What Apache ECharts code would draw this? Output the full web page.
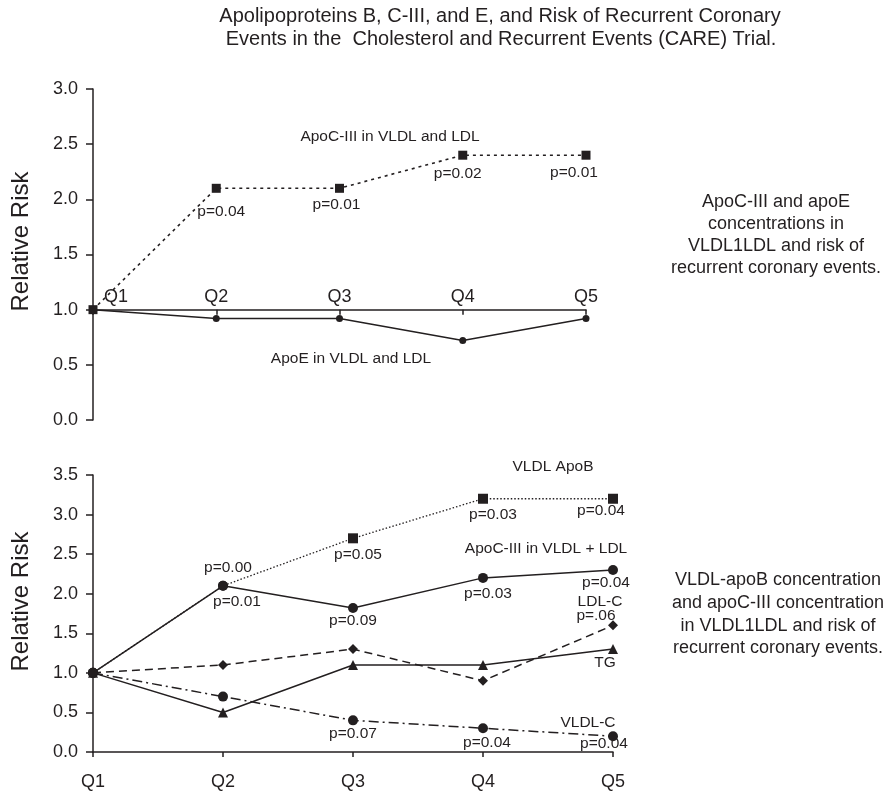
<!DOCTYPE html>
<html><head><meta charset="utf-8">
<script src="https://cdn.jsdelivr.net/npm/echarts@6/dist/echarts.min.js"></script>
<style>html,body{margin:0;padding:0;background:#fff}#c{width:891px;height:794px}</style>
</head><body><div id="c"></div>
<script>
// ---- data ----
const quintiles = ['Q1', 'Q2', 'Q3', 'Q4', 'Q5'];
const topApoC3 = [1.0, 2.1, 2.1, 2.4, 2.4];
const topApoC3P = ['', 'p=0.04', 'p=0.01', 'p=0.02', 'p=0.01'];
const topApoE = [1.0, 0.92, 0.92, 0.72, 0.92];
const botVldlApoB = [1.0, 2.1, 2.7, 3.2, 3.2];
const botVldlApoBP = ['', 'p=0.00', 'p=0.05', 'p=0.03', 'p=0.04'];
const botApoC3 = [1.0, 2.1, 1.82, 2.2, 2.3];
const botApoC3P = ['', 'p=0.01', 'p=0.09', 'p=0.03', 'p=0.04'];
const botLdlC = [1.0, 1.1, 1.3, 0.9, 1.6];
const botLdlCP = ['', '', '', '', 'p=.06'];
const botTG = [1.0, 0.5, 1.1, 1.1, 1.3];
const botVldlC = [1.0, 0.7, 0.4, 0.3, 0.2];
const botVldlCP = ['', '', 'p=0.07', 'p=0.04', 'p=0.04'];

// ---- layout / style ----
const INK = '#231f20';
const FONT = '"Liberation Sans", Arial, Helvetica, sans-serif';
const ANN = 15.5;
const offTopApoC3 = [[0,0],[5,23],[-3,16],[-5,19],[-12,18]];
const offVldlApoB = [[0,0],[5,-18],[5,16],[10,16],[-12,12]];
const offBotApoC3 = [[0,0],[14,16],[0,13],[5,16],[-7,13]];
const offLdlC = [[0,0],[0,0],[0,0],[0,0],[-17,-10]];
const offVldlC = [[0,0],[0,0],[0,13],[4,14],[-9,8]];

function items(vals, ps, offs, symbols) {
  return vals.map((v, i) => {
    const it = { value: v };
    if (symbols) it.symbol = symbols[i];
    if (ps && ps[i]) {
      it.label = { show: true, formatter: ps[i], position: 'inside', offset: offs[i],
        color: INK, fontSize: ANN, fontFamily: FONT, align: 'center', verticalAlign: 'middle' };
    }
    return it;
  });
}

const TOP_GRID = { left: 93, top: 89, width: 493, height: 331 };
const BOT_GRID = { left: 93, top: 475, width: 520, height: 277 };

function yAxis(gridIndex, max, padLeft) {
  return {
    type: 'value', gridIndex, min: 0, max, interval: 0.5,
    name: 'Relative Risk', nameLocation: 'middle', nameRotate: 90, nameGap: 60,
    nameTextStyle: { fontSize: 24, color: INK, fontFamily: FONT, padding: [0, 0, 0, padLeft] },
    axisLine: { show: true, lineStyle: { color: INK, width: 1.5 } },
    axisTick: { show: true, length: 7, lineStyle: { color: INK, width: 1.5 } },
    axisLabel: { fontSize: 18, color: INK, fontFamily: FONT, margin: 15, formatter: v => v.toFixed(1) },
    splitLine: { show: false }
  };
}

const topCats = quintiles.map((q, i) => i === 0
  ? { value: q, textStyle: { align: 'left', padding: [0, 0, 0, 11] } } : q);

const lineBase = { type: 'line', silent: true, animation: false, z: 3 };

const option = {
  animation: false,
  backgroundColor: '#fff',
  textStyle: { fontFamily: FONT },
  grid: [TOP_GRID, BOT_GRID],
  xAxis: [
    {
      type: 'category', gridIndex: 0, data: topCats, boundaryGap: false,
      position: 'bottom', offset: -TOP_GRID.height / 3,
      axisLine: { onZero: false, lineStyle: { color: INK, width: 1.5 } },
      axisTick: { show: true, length: 5, inside: false, lineStyle: { color: INK, width: 1.5 } },
      axisLabel: { inside: true, margin: 4, fontSize: 18, color: INK, fontFamily: FONT }
    },
    {
      type: 'category', gridIndex: 1, data: quintiles, boundaryGap: false,
      axisLine: { onZero: false, lineStyle: { color: INK, width: 1.5 } },
      axisTick: { show: true, length: 5, lineStyle: { color: INK, width: 1.5 } },
      axisLabel: { margin: 21, fontSize: 18, color: INK, fontFamily: FONT }
    }
  ],
  yAxis: [yAxis(0, 3, 26), yAxis(1, 3.5, 24)],
  series: [
    Object.assign({}, lineBase, { name: 'ApoE in VLDL and LDL', xAxisIndex: 0, yAxisIndex: 0,
      data: items(topApoE), symbol: 'circle', symbolSize: 7,
      lineStyle: { color: INK, width: 1.5 }, itemStyle: { color: INK } }),
    Object.assign({}, lineBase, { name: 'ApoC-III in VLDL and LDL', xAxisIndex: 0, yAxisIndex: 0,
      data: items(topApoC3, topApoC3P, offTopApoC3), symbol: 'rect', symbolSize: 9,
      lineStyle: { color: INK, width: 1.6, type: [3, 4] }, itemStyle: { color: INK } }),

    Object.assign({}, lineBase, { name: 'TG', xAxisIndex: 1, yAxisIndex: 1,
      data: items(botTG), symbol: 'triangle', symbolSize: 10,
      lineStyle: { color: INK, width: 1.5 }, itemStyle: { color: INK } }),
    Object.assign({}, lineBase, { name: 'LDL-C', xAxisIndex: 1, yAxisIndex: 1,
      data: items(botLdlC, botLdlCP, offLdlC), symbol: 'diamond', symbolSize: 10,
      lineStyle: { color: INK, width: 1.5, type: [8, 5] }, itemStyle: { color: INK } }),
    Object.assign({}, lineBase, { name: 'VLDL-C', xAxisIndex: 1, yAxisIndex: 1,
      data: items(botVldlC, botVldlCP, offVldlC), symbol: 'circle', symbolSize: 10,
      lineStyle: { color: INK, width: 1.5, type: [10, 4, 2, 4] }, itemStyle: { color: INK } }),
    Object.assign({}, lineBase, { name: 'VLDL ApoB', xAxisIndex: 1, yAxisIndex: 1,
      data: items(botVldlApoB, botVldlApoBP, offVldlApoB, ['circle', 'circle', 'rect', 'rect', 'rect']),
      symbolSize: 10,
      lineStyle: { color: INK, width: 1.3, type: [1.5, 2] }, itemStyle: { color: INK } }),
    Object.assign({}, lineBase, { name: 'ApoC-III in VLDL + LDL', xAxisIndex: 1, yAxisIndex: 1,
      data: items(botApoC3, botApoC3P, offBotApoC3), symbol: 'circle', symbolSize: 10,
      lineStyle: { color: INK, width: 1.5 }, itemStyle: { color: INK } })
  ]
};

function txt(x, y, text, size) {
  return { type: 'text', x, y, silent: true, z: 10,
    style: { text, fill: INK, font: size + 'px ' + FONT, textAlign: 'center', textVerticalAlign: 'middle' } };
}

option.graphic = [
  txt(500, 16, 'Apolipoproteins B, C-III, and E, and Risk of Recurrent Coronary', 20),
  txt(501, 39, 'Events in the  Cholesterol and Recurrent Events (CARE) Trial.', 20),
  txt(776, 202, 'ApoC-III and apoE', 18),
  txt(776, 224.5, 'concentrations in', 18),
  txt(776, 246.5, 'VLDL1LDL and risk of', 18),
  txt(776, 268.5, 'recurrent coronary events.', 18),
  txt(778, 580, 'VLDL-apoB concentration', 18),
  txt(778, 603, 'and apoC-III concentration', 18),
  txt(778, 626, 'in VLDL1LDL and risk of', 18),
  txt(778, 648.5, 'recurrent coronary events.', 18),
  txt(390, 137, 'ApoC-III in VLDL and LDL', ANN),
  txt(351, 359, 'ApoE in VLDL and LDL', ANN),
  txt(553, 467, 'VLDL ApoB', ANN),
  txt(546, 549, 'ApoC-III in VLDL + LDL', ANN),
  txt(600, 602, 'LDL-C', ANN),
  txt(605, 663, 'TG', ANN),
  txt(588, 723, 'VLDL-C', ANN)
];

const chart = echarts.init(document.getElementById('c'), null, { renderer: 'canvas' });
chart.setOption(option);
</script>
</body></html>
